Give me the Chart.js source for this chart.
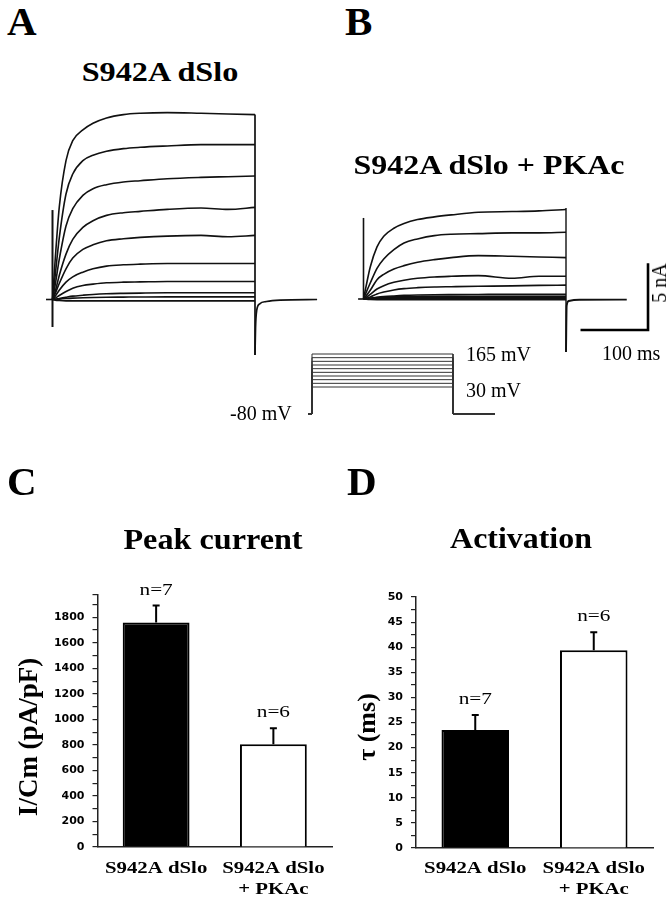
<!DOCTYPE html>
<html>
<head>
<meta charset="utf-8">
<title>S942A dSlo + PKAc</title>
<script src="https://cdn.jsdelivr.net/npm/chart.js@4.4.1/dist/chart.umd.min.js"></script>
<style>
  body { margin: 0; background: #fff; }
  #fig { position: relative; width: 670px; height: 900px; overflow: hidden; background: #fff; }
  #fig canvas { position: absolute; }
  .t { position: absolute; line-height: 1; white-space: nowrap; font-family: 'Liberation Serif', 'Times New Roman', serif; color: #000; }
  .b { font-weight: bold; }
</style>
</head>
<body>
<div id="fig">
  <canvas id="traceA" width="330" height="280" style="left:0; top:90px"></canvas>
  <canvas id="traceB" width="340" height="280" style="left:330px; top:90px"></canvas>
  <canvas id="protocol" width="200" height="80" style="left:300px; top:340px"></canvas>
  <canvas id="peakChart" width="340" height="440" style="left:0; top:460px"></canvas>
  <canvas id="tauChart" width="330" height="440" style="left:340px; top:460px"></canvas>

  <div class="t b" style="left:7px; top:0.7px; font-size:41px">A</div>
  <div class="t b" style="left:345px; top:0.7px; font-size:41px">B</div>
  <div class="t b" style="left:7px; top:460.7px; font-size:41px">C</div>
  <div class="t b" style="left:347px; top:460.7px; font-size:41px">D</div>

  <div class="t b" style="left:160px; top:57.5px; font-size:28px; transform:translateX(-50%) scaleX(1.15)">S942A dSlo</div>
  <div class="t b" style="left:489px; top:150.5px; font-size:28px; transform:translateX(-50%) scaleX(1.14)">S942A dSlo + PKAc</div>
  <div class="t b" style="left:213px; top:524.7px; font-size:29px; transform:translateX(-50%) scaleX(1.11)">Peak current</div>
  <div class="t b" style="left:521px; top:523.7px; font-size:29px; transform:translateX(-50%) scaleX(1.1)">Activation</div>

  <div class="t" style="left:466px; top:344px; font-size:20px">165 mV</div>
  <div class="t" style="left:466px; top:380px; font-size:20px">30 mV</div>
  <div class="t" style="left:230px; top:403px; font-size:20px">-80 mV</div>
  <div class="t" style="left:602px; top:343px; font-size:20px">100 ms</div>
  <div class="t" style="left:659px; top:283px; font-size:20px; transform:translate(-50%,-50%) rotate(-90deg)">5 nA</div>
</div>

<script>
// sample times of the current traces (ms from pulse onset)
const traceTimes = [0, 4, 10, 20, 30, 45, 60, 80, 105, 130, 170, 220, 260, 300];
// test pulses from the -80 mV holding potential
const stepVoltages = [30, 45, 60, 75, 90, 105, 120, 135, 150, 165];
const holdingVoltage = -80;
const protocolPulse = [0, 300];
const protocolHold = [-8.5, 389];

// A: S942A dSlo currents (nA), one row per step voltage
const currentsControl = [
    [0, -0.05, -0.08, -0.1, -0.1, -0.1, -0.1, -0.1, -0.1, -0.1, -0.1, -0.1, -0.1, -0.1],
    [0, 0, 0.03, 0.07, 0.1, 0.13, 0.15, 0.17, 0.18, 0.19, 0.2, 0.2, 0.2, 0.2],
    [0, 0.02, 0.08, 0.17, 0.25, 0.32, 0.38, 0.43, 0.46, 0.48, 0.5, 0.5, 0.5, 0.5],
    [0, 0.1, 0.3, 0.6, 0.85, 1.05, 1.15, 1.25, 1.3, 1.32, 1.35, 1.35, 1.35, 1.35],
    [0, 0.25, 0.7, 1.3, 1.7, 2.05, 2.3, 2.5, 2.6, 2.65, 2.7, 2.7, 2.7, 2.7],
    [0, 0.45, 1.2, 2.3, 3.1, 3.75, 4.1, 4.4, 4.55, 4.65, 4.75, 4.8, 4.7, 4.8],
    [0, 0.6, 1.8, 3.4, 4.5, 5.4, 5.9, 6.3, 6.5, 6.6, 6.75, 6.85, 6.75, 6.9],
    [0, 1.1, 3.0, 5.5, 6.8, 7.8, 8.3, 8.6, 8.8, 8.9, 9.05, 9.15, 9.2, 9.25],
    [0, 1.8, 4.6, 7.9, 9.4, 10.4, 10.8, 11.1, 11.3, 11.4, 11.5, 11.6, 11.6, 11.6],
    [0, 3.0, 6.9, 10.4, 11.9, 12.7, 13.2, 13.6, 13.85, 13.95, 14.0, 13.95, 13.9, 13.85]
];
// B: S942A dSlo + PKAc currents (nA)
const currentsPKA = [
    [0, -0.02, -0.04, -0.05, -0.05, -0.05, -0.05, -0.05, -0.05, -0.05, -0.05, -0.05, -0.05, -0.05],
    [0, 0, 0.01, 0.03, 0.04, 0.05, 0.05, 0.05, 0.05, 0.05, 0.05, 0.05, 0.05, 0.05],
    [0, 0.01, 0.03, 0.06, 0.08, 0.1, 0.1, 0.1, 0.1, 0.1, 0.1, 0.1, 0.1, 0.1],
    [0, 0.02, 0.05, 0.1, 0.13, 0.16, 0.18, 0.19, 0.2, 0.2, 0.2, 0.2, 0.2, 0.2],
    [0, 0.02, 0.06, 0.13, 0.18, 0.23, 0.27, 0.3, 0.32, 0.33, 0.34, 0.35, 0.35, 0.35],
    [0, 0.05, 0.15, 0.38, 0.52, 0.68, 0.78, 0.85, 0.9, 0.92, 0.95, 0.98, 1.02, 1.04],
    [0, 0.12, 0.35, 0.75, 1.0, 1.25, 1.4, 1.55, 1.65, 1.7, 1.75, 1.55, 1.7, 1.7],
    [0, 0.25, 0.65, 1.45, 1.85, 2.25, 2.5, 2.75, 2.95, 3.1, 3.25, 3.2, 3.15, 3.1],
    [0, 0.5, 1.2, 2.3, 3.0, 3.7, 4.2, 4.5, 4.75, 4.85, 4.9, 4.95, 4.95, 5.0],
    [0, 1.0, 2.4, 3.9, 4.7, 5.3, 5.65, 5.95, 6.15, 6.3, 6.5, 6.55, 6.6, 6.7]
];

// capacitive transients and tail currents (nA)
const onsetA = [-2.06, 6.7];
const offsetA = [13.85, -4.16];
const baselineStartA = -9.6;
const tailTimesA = [300, 300.8, 302.5, 307, 317, 337, 392];
const tailA = [-4.16, -2.1, -0.82, -0.32, -0.15, -0.04, 0];
const onsetB = [0, 6.07];
const offsetB = [6.82, -3.97];
const baselineStartB = -8;
const tailTimesB = [300, 301, 304, 320, 390];
const tailB = [-3.97, -0.5, -0.15, -0.06, -0.05];

// scale bar: 100 ms, 5 nA
const scaleBarTime = 100;
const scaleBarCurrent = 5;
const scaleBarCorner = [421.5, -2.32];

// C and D
const groupLabels = [['S942A dSlo'], ['S942A dSlo', '+ PKAc']];
const groupCounts = [7, 6];
const peakCurrent = [1760, 805];
const peakCurrentErr = [132, 126];
const peakTickLabels = [0, 200, 400, 600, 800, 1000, 1200, 1400, 1600, 1800];
const tauActivation = [23.5, 39.4];
const tauActivationErr = [3.0, 3.6];
const tauTickLabels = [0, 5, 10, 15, 20, 25, 30, 35, 40, 45, 50];

Chart.defaults.font.family = "'DejaVu Sans', sans-serif";

function line(points, extra) {
    return Object.assign({
        data: points,
        borderColor: '#111',
        borderWidth: 1.6,
        pointRadius: 0,
        fill: false,
        cubicInterpolationMode: 'monotone'
    }, extra || {});
}

function edge(t, ys, extra) {
    return line(ys.map(y => ({ x: t, y })), Object.assign({ cubicInterpolationMode: 'default', tension: 0 }, extra || {}));
}

function traceSets(rows) {
    return rows.map(row => line(row.map((v, i) => ({ x: traceTimes[i], y: v }))));
}

function hiddenLineChart(id, xRange, yRange, datasets) {
    return new Chart(document.getElementById(id), {
        type: 'line',
        data: { datasets },
        options: {
            responsive: false,
            animation: false,
            devicePixelRatio: 1,
            layout: { padding: 0 },
            plugins: { legend: { display: false }, tooltip: { enabled: false } },
            scales: {
                x: { type: 'linear', display: false, min: xRange[0], max: xRange[1] },
                y: { type: 'linear', display: false, min: yRange[0], max: yRange[1] }
            }
        }
    });
}

// Panel A
hiddenLineChart('traceA', [-77.78, 411.11], [-5.281, 15.693], [
    line([{ x: baselineStartA, y: 0 }, { x: 0, y: 0 }]),
    ...traceSets(currentsControl),
    edge(0, onsetA, { borderWidth: 2 }),
    edge(300, offsetA, { borderWidth: 1.7 }),
    line(tailTimesA.map((t, i) => ({ x: t, y: tailA[i] })), { borderWidth: 1.7 })
]);

// Panel B, with the scale bar
hiddenLineChart('traceB', [-49.63, 454.07], [-5.318, 15.655], [
    line([{ x: baselineStartB, y: 0 }, { x: 0, y: 0 }]),
    ...traceSets(currentsPKA),
    edge(0, onsetB, { borderWidth: 1.6 }),
    edge(300, offsetB, { borderWidth: 1.4 }),
    line(tailTimesB.map((t, i) => ({ x: t, y: tailB[i] })), { borderWidth: 1.9 }),
    line([
        { x: scaleBarCorner[0] - scaleBarTime, y: scaleBarCorner[1] },
        { x: scaleBarCorner[0], y: scaleBarCorner[1] },
        { x: scaleBarCorner[0], y: scaleBarCorner[1] + scaleBarCurrent }
    ], { borderWidth: 2.6, borderColor: '#000', cubicInterpolationMode: 'default', tension: 0, borderJoinStyle: 'miter' })
]);

// voltage protocol
hiddenLineChart('protocol', [-25.53, 400], [-105, 222.3], stepVoltages.map(v => line([
    { x: protocolHold[0], y: holdingVoltage },
    { x: protocolPulse[0], y: holdingVoltage },
    { x: protocolPulse[0], y: v },
    { x: protocolPulse[1], y: v },
    { x: protocolPulse[1], y: holdingVoltage },
    { x: protocolHold[1], y: holdingVoltage }
], { borderWidth: 1, borderColor: '#333', cubicInterpolationMode: 'default', tension: 0 })));

function wideText(ctx, text, x, y, font, sx) {
    ctx.save();
    ctx.font = font;
    ctx.textAlign = 'center';
    ctx.textBaseline = 'alphabetic';
    ctx.fillStyle = '#000';
    ctx.translate(x, y);
    ctx.scale(sx, 1);
    ctx.fillText(text, 0, 0);
    ctx.restore();
}

function barChart(id, cfg) {
    const extras = {
        id: 'barExtras',
        afterDatasetsDraw(chart) {
            const { ctx, scales: { y } } = chart;
            const bars = chart.getDatasetMeta(0).data;
            ctx.save();
            ctx.strokeStyle = '#000';
            ctx.lineWidth = 2;
            bars.forEach((bar, i) => {
                const top = y.getPixelForValue(cfg.values[i] + cfg.errors[i]);
                ctx.beginPath();
                ctx.moveTo(bar.x, bar.y);
                ctx.lineTo(bar.x, top);
                ctx.moveTo(bar.x - 3.5, top);
                ctx.lineTo(bar.x + 3.5, top);
                ctx.stroke();
                wideText(ctx, 'n=' + groupCounts[i], bar.x, top - 11, "17px 'Liberation Serif'", 1.25);
                groupLabels[i].forEach((txt, k) => {
                    wideText(ctx, txt, bar.x, 413 + k * 20.5, "bold 16px 'Liberation Serif'", 1.3);
                });
            });
            ctx.translate(cfg.titleX, cfg.titleY);
            ctx.rotate(-Math.PI / 2);
            ctx.font = cfg.titleFont;
            ctx.fillStyle = '#000';
            ctx.textAlign = 'center';
            ctx.textBaseline = 'middle';
            ctx.fillText(cfg.title, 0, 0);
            ctx.restore();
        }
    };

    return new Chart(document.getElementById(id), {
        type: 'bar',
        data: {
            labels: groupLabels.map(l => l.join(' ')),
            datasets: [{
                data: cfg.values,
                backgroundColor: ['#000', '#fff'],
                borderColor: '#000',
                borderWidth: 2,
                barPercentage: 0.57,
                categoryPercentage: 1
            }]
        },
        options: {
            responsive: false,
            animation: false,
            devicePixelRatio: 1,
            layout: { padding: { top: cfg.padTop, right: cfg.padRight, left: 0, bottom: 0 } },
            plugins: { legend: { display: false }, tooltip: { enabled: false } },
            scales: {
                x: {
                    grid: { display: false },
                    border: { color: '#222', width: 1.5 },
                    ticks: { display: false },
                    afterFit: s => { s.height = cfg.axisHeight; }
                },
                y: {
                    min: 0,
                    max: cfg.max,
                    bounds: 'data',
                    border: { color: '#222', width: 1.5 },
                    grid: { drawOnChartArea: false, color: '#222', lineWidth: 1.2, tickLength: 5 },
                    ticks: {
                        stepSize: cfg.step,
                        includeBounds: false,
                        autoSkip: false,
                        padding: 8,
                        color: '#000',
                        font: { size: 11, weight: 'bold' },
                        callback: v => cfg.tickLabels.includes(v) ? String(v) : ''
                    },
                    afterFit: s => { s.width = cfg.axisWidth; }
                }
            }
        },
        plugins: [extras]
    });
}

barChart('peakChart', {
    values: peakCurrent, errors: peakCurrentErr, tickLabels: peakTickLabels,
    max: 1975, step: 100,
    padTop: 135, padRight: 8, axisWidth: 97.5, axisHeight: 53,
    title: 'I/Cm (pA/pF)', titleFont: "bold 27px 'Liberation Serif'", titleX: 30, titleY: 277
});

barChart('tauChart', {
    values: tauActivation, errors: tauActivationErr, tickLabels: tauTickLabels,
    max: 50, step: 2.5,
    padTop: 137, padRight: 17, axisWidth: 76, axisHeight: 52,
    title: 'τ (ms)', titleFont: "bold 26px 'Liberation Serif'", titleX: 28, titleY: 267
});
</script>
</body>
</html>
